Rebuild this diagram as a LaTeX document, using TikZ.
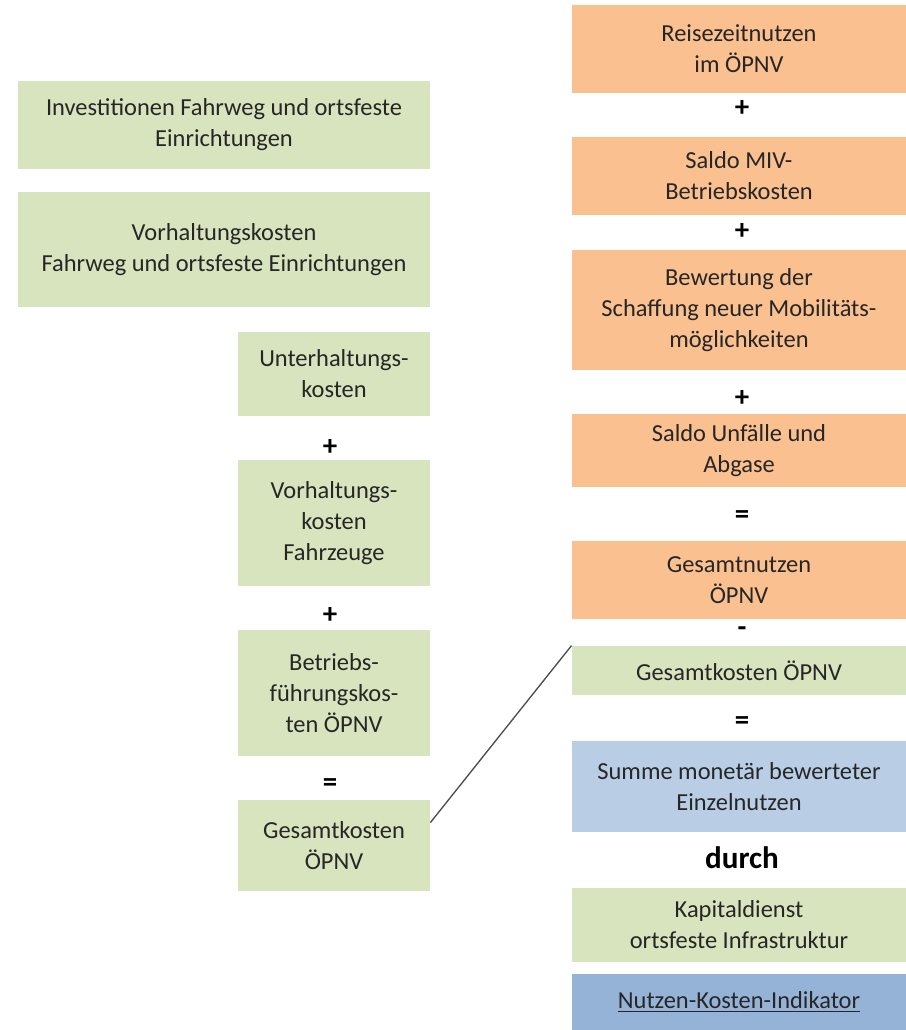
\documentclass[tikz,border=0pt]{standalone}
\usepackage{fontspec}
\setmainfont{Carlito}
\usepackage{tikz}
\usetikzlibrary{positioning, calc}
\definecolor{gruen}{HTML}{D7E4BD}
\definecolor{orange}{HTML}{FAC090}
\definecolor{hellblau}{HTML}{B9CDE5}
\definecolor{blau}{HTML}{95B3D7}

\begin{document}
\begin{tikzpicture}[
  x=0.45pt, y=-0.45pt,
  feld/.style={inner sep=0pt, align=center, font=\fontsize{11}{14}\selectfont, text=black!85},
  kosten/.style={feld, fill=gruen},
  nutzen/.style={feld, fill=orange},
  links/.style={minimum width=192*0.45pt},
  breit/.style={minimum width=412*0.45pt},
  rechts/.style={minimum width=334*0.45pt},
  op/.style={font=\fontsize{13}{15}\selectfont\bfseries}
]
  \useasboundingbox (0,0) rectangle (906,1030);

  % linke Spalte
  \node[kosten, breit, minimum height=88*0.45pt] (inv) at (224,125) {Investitionen Fahrweg und ortsfeste\\Einrichtungen};
  \node[kosten, breit, minimum height=115*0.45pt] (vhf) at (224,249.5) {Vorhaltungskosten\\Fahrweg und ortsfeste Einrichtungen};
  \node[kosten, links, minimum height=84*0.45pt] (uhk) at (334,374) {Unterhaltungs-\\kosten};
  \node[kosten, links, minimum height=126*0.45pt] (vhz) at (334,523) {Vorhaltungs-\\kosten\\Fahrzeuge};
  \node[kosten, links, minimum height=126*0.45pt] (bfk) at (334,693) {Betriebs-\\führungskos-\\ten ÖPNV};
  \node[kosten, links, minimum height=91*0.45pt] (gkl) at (334,845.5) {Gesamtkosten\\ÖPNV};

  % rechte Spalte
  \node[nutzen, rechts, minimum height=88*0.45pt] (rzn) at (739,49) {Reisezeitnutzen\\im ÖPNV};
  \node[nutzen, rechts, minimum height=78*0.45pt] (miv) at (739,176) {Saldo MIV-\\Betriebskosten};
  \node[nutzen, rechts, minimum height=120*0.45pt] (bew) at (739,310) {Bewertung der\\Schaffung neuer Mobilitäts-\\möglichkeiten};
  \node[nutzen, rechts, minimum height=73*0.45pt] (unf) at (739,450.5) {Saldo Unfälle und\\Abgase};
  \node[nutzen, rechts, minimum height=78*0.45pt] (gn) at (739,580) {Gesamtnutzen\\ÖPNV};
  \node[kosten, rechts, minimum height=49*0.45pt] (gkr) at (739,670.5) {Gesamtkosten ÖPNV};
  \node[feld, fill=hellblau, rechts, minimum height=91*0.45pt] (sum) at (739,786.5) {Summe monetär bewerteter\\Einzelnutzen};
  \node[kosten, rechts, minimum height=74*0.45pt] (kap) at (739,925) {Kapitaldienst\\ortsfeste Infrastruktur};
  \node[feld, fill=blau, rechts, minimum height=56*0.45pt] (nki) at (739,1002) {\underline{Nutzen-Kosten-Indikator}};

  % Rechenzeichen
  \foreach \n/\y/\t in {pl1/447/+, pl2/615/+, gl1/785/=}{
    \node[op] (\n) at (330,\y) {\t};
  }
  \foreach \n/\y/\t in {pr1/108/+, pr2/231/+, pr3/398/+, gr1/517/=, mi1/632/-, gr2/723/=}{
    \node[op] (\n) at (742,\y) {\t};
  }
  \node[op, font=\fontsize{14}{16}\selectfont\bfseries] (durch) at (742,858) {durch};

  \draw[black!70, line width=0.6pt] ([yshift=23*0.45pt]gkl.east) -- (gkr.north west);
\end{tikzpicture}
\end{document}
